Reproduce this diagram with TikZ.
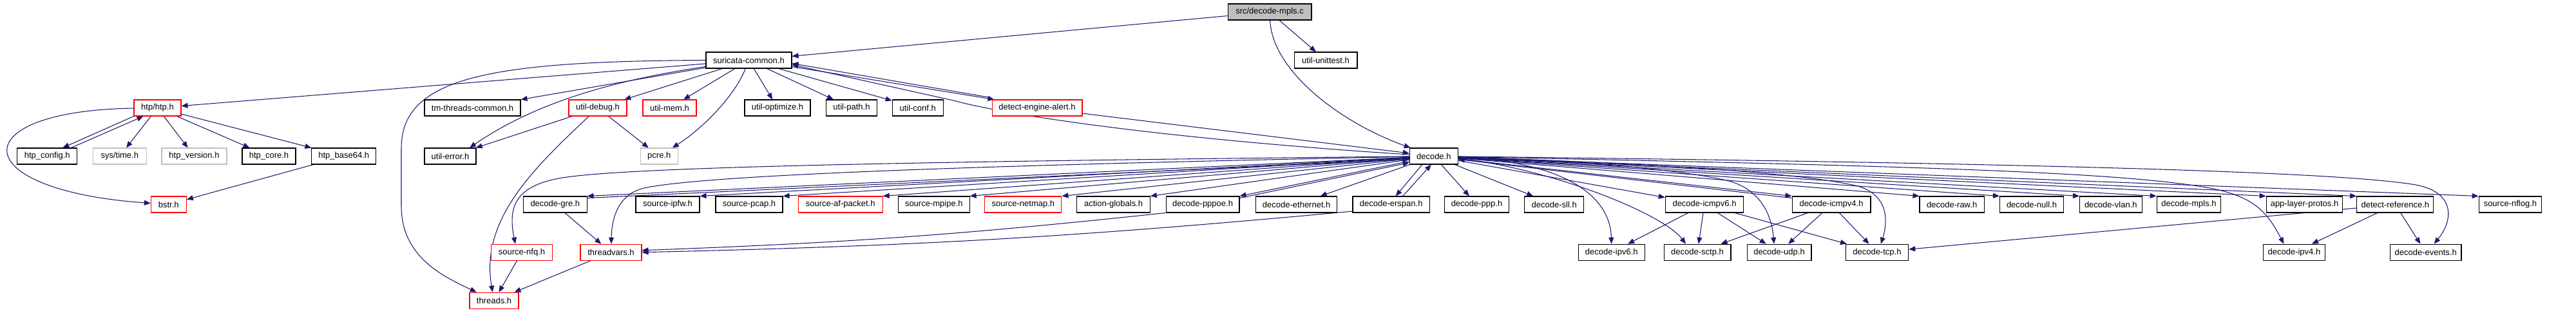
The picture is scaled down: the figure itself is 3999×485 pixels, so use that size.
\documentclass[tikz,border=0pt]{standalone}
\usepackage{fontspec}
\setmainfont{Liberation Sans}
\usetikzlibrary{arrows.meta,backgrounds}
\definecolor{edgeblue}{HTML}{191970}
\definecolor{truncred}{HTML}{FF0000}
\definecolor{sysgray}{HTML}{BFBFBF}
\tikzset{
  hfile/.style={rectangle,draw=black,fill=white,line width=0.6pt,
    minimum width=#1,minimum height=0.5cm,inner sep=0pt,
    font=\fontsize{7.4}{9}\selectfont},
  hfile/.default={2cm},
  htrunc/.style={hfile=#1,draw=truncred},
  hsys/.style={hfile=#1,draw=sysgray},
  hroot/.style={hfile=#1,fill=sysgray},
  incarrow/.style={-{Triangle[length=0.2cm,width=0.16cm]},draw=edgeblue,line width=0.6pt},
}

\begin{document}
\begin{tikzpicture}[x=0.02cm,y=-0.02cm]
  \useasboundingbox (0,0) rectangle (3999,485);
  % rows of the include graph
  \node[hroot=2.6cm] (root) at (1971,18.5) {src/decode-mpls.c};
  \node[hfile=2.66cm] (sc) at (1162.5,93.5) {suricata-common.h};
  \node[hfile=1.96cm] (unittest) at (2058,93.5) {util-unittest.h};

  \node[htrunc=1.46cm] (htp) at (244.5,167.5) {htp/htp.h};
  \node[hfile=2.98cm] (tmthreads) at (733.5,167.5) {tm-threads-common.h};
  \node[htrunc=1.8cm] (udebug) at (928,167.5) {util-debug.h};
  \node[htrunc=1.66cm] (umem) at (1039.5,167.5) {util-mem.h};
  \node[hfile=2.04cm] (uopt) at (1207,167.5) {util-optimize.h};
  \node[hfile=1.58cm] (upath) at (1322,167.5) {util-path.h};
  \node[hfile=1.58cm] (uconf) at (1424.7,167.5) {util-conf.h};
  \node[htrunc=2.8cm] (dea) at (1610,167.5) {detect-engine-alert.h};

  \node[hfile=1.86cm] (htpconfig) at (73.3,242.5) {htp\_config.h};
  \node[hsys=1.66cm] (systime) at (185.8,242.5) {sys/time.h};
  \node[hsys=2.02cm] (htpversion) at (301.5,242.5) {htp\_version.h};
  \node[hfile=1.66cm] (htpcore) at (417.5,242.5) {htp\_core.h};
  \node[hfile=2.01cm] (htpbase64) at (533.7,242.5) {htp\_base64.h};
  \node[hfile=1.6cm] (uerror) at (699,242.5) {util-error.h};
  \node[hsys=1.16cm] (pcre) at (1023.3,242.5) {pcre.h};
  \node[hfile=1.5cm] (decode) at (2225.8,242.5) {decode.h};

  \node[htrunc=1.1cm] (bstr) at (261.8,317.5) {bstr.h};
  \node[hfile=1.97cm] (gre) at (861.8,317.5) {decode-gre.h};
  \node[hfile=1.98cm] (ipfw) at (1036.5,317.5) {source-ipfw.h};
  \node[hfile=2.08cm] (pcap) at (1163,317.5) {source-pcap.h};
  \node[htrunc=2.62cm] (afpacket) at (1304.7,317.5) {source-af-packet.h};
  \node[hfile=2.21cm] (mpipe) at (1449.8,317.5) {source-mpipe.h};
  \node[htrunc=2.38cm] (netmap) at (1588.4,317.5) {source-netmap.h};
  \node[hfile=2.27cm] (actglob) at (1728.6,317.5) {action-globals.h};
  \node[hfile=2.28cm] (pppoe) at (1867,317.5) {decode-pppoe.h};
  \node[hfile=2.53cm] (ethernet) at (2012.7,317.5) {decode-ethernet.h};
  \node[hfile=2.39cm] (erspan) at (2159.7,317.5) {decode-erspan.h};
  \node[hfile=2.01cm] (ppp) at (2292.5,317.5) {decode-ppp.h};
  \node[hfile=1.84cm] (sll) at (2412.7,317.5) {decode-sll.h};
  \node[hfile=2.43cm] (icmpv6) at (2646,317.5) {decode-icmpv6.h};
  \node[hfile=2.44cm] (icmpv4) at (2843,317.5) {decode-icmpv4.h};
  \node[hfile=2.01cm] (raw) at (3030.2,317.5) {decode-raw.h};
  \node[hfile=1.98cm] (null) at (3154,317.5) {decode-null.h};
  \node[hfile=1.93cm] (vlan) at (3276.8,317.5) {decode-vlan.h};
  \node[hfile=1.99cm] (mplsh) at (3398,317.5) {decode-mpls.h};
  \node[hfile=2.37cm] (alproto) at (3577.5,317.5) {app-layer-protos.h};
  \node[hfile=2.38cm] (detref) at (3718.3,317.5) {detect-reference.h};
  \node[hfile=1.95cm] (nflog) at (3896.9,317.5) {source-nflog.h};

  \node[htrunc=1.9cm] (nfq) at (810,391.7) {source-nfq.h};
  \node[htrunc=1.9cm] (threadvars) at (948.5,391.7) {threadvars.h};
  \node[hfile=2.05cm] (ipv6) at (2501.8,391.7) {decode-ipv6.h};
  \node[hfile=2.08cm] (sctp) at (2635,391.7) {decode-sctp.h};
  \node[hfile=2cm] (udp) at (2762,391.7) {decode-udp.h};
  \node[hfile=1.95cm] (tcp) at (2913.9,391.7) {decode-tcp.h};
  \node[hfile=1.92cm] (ipv4) at (3561.4,391.7) {decode-ipv4.h};
  \node[hfile=2.21cm] (events) at (3765.7,391.7) {decode-events.h};

  \node[htrunc=1.52cm] (threads) at (767,466.7) {threads.h};

  \begin{scope}[on background layer]
  % includes of the source file
  \draw[incarrow] (root) -- (sc);
  \draw[incarrow] (root) -- (unittest);
  \draw[incarrow] (root) .. controls (1975,110) and (2080,190) .. (decode);

  % suricata-common.h
  \draw[incarrow] (sc) -- (htp);
  \draw[incarrow] (sc) -- (tmthreads);
  \draw[incarrow] (sc) -- (udebug);
  \draw[incarrow] (sc) -- (umem);
  \draw[incarrow] (sc) -- (uopt);
  \draw[incarrow] (sc) -- (upath);
  \draw[incarrow] (sc) -- (uconf);
  \draw[incarrow] ([yshift=-0.2cm]sc.east) -- ([xshift=0.08cm]dea.north west);
  \draw[incarrow] ([xshift=-0.04cm,yshift=0.06cm]dea.north west) -- ([yshift=-0.1cm]sc.east);
  \draw[incarrow] (sc) .. controls (1140,150) and (1090,200) .. (pcre);
  \draw[incarrow] (sc) .. controls (950,125) and (830,160) .. ([xshift=0.6cm]uerror.north);
  \draw[incarrow] (sc.west) .. controls (760,95) and (623,120) .. (623,230)
    -- (623,320) .. controls (623,400) and (690,430) .. (threads);
  \draw[incarrow] (dea) -- (decode);
  \draw[incarrow] (decode) .. controls (1800,215) and (1560,178) .. (1480,156)
    -- ([yshift=-0.14cm]sc.east);

  % htp
  \draw[incarrow] (htp.south west) -- ([xshift=0.48cm]htpconfig.north);
  \draw[incarrow] ([xshift=-0.2cm]htpconfig.north east) -- ([xshift=0.3cm]htp.south west);
  \draw[incarrow] (htp) -- (systime);
  \draw[incarrow] (htp) -- (htpversion);
  \draw[incarrow] (htp) -- (htpcore);
  \draw[incarrow] (htp) -- (htpbase64);
  \draw[incarrow] (htp) .. controls (-60,172) and (-55,295) .. (bstr);
  \draw[incarrow] (htpbase64) -- (bstr);

  % util-debug.h
  \draw[incarrow] (udebug) -- (uerror);
  \draw[incarrow] (udebug) -- (pcre);
  \draw[incarrow] (udebug) .. controls (830,260) and (745,340) .. (threads);

  % decode.h, left side
  \draw[incarrow] (decode) -- (gre.north east);
  \draw[incarrow] ([yshift=-0.06cm]gre.north east) -- ([yshift=-0.1cm]decode.west);
  \draw[incarrow] (decode) -- (ipfw.north east);
  \draw[incarrow] (decode) -- (pcap.north east);
  \draw[incarrow] (decode) -- (afpacket.north east);
  \draw[incarrow] (decode) -- (mpipe.north east);
  \draw[incarrow] (decode) -- (netmap.north east);
  \draw[incarrow] (decode) -- (actglob.north east);
  \draw[incarrow] (decode) -- (pppoe.north east);
  \draw[incarrow] ([yshift=-0.06cm]pppoe.north east) -- ([yshift=-0.2cm]decode.west);
  \draw[incarrow] (decode) -- (ethernet);
  \draw[incarrow] ([xshift=-0.36cm]decode.south) -- ([xshift=0.14cm]erspan.north);
  \draw[incarrow] ([xshift=0.36cm]erspan.north) -- ([xshift=-0.08cm]decode.south);
  \draw[incarrow] (decode) .. controls (1500,250) and (1000,258) .. (880,275)
    .. controls (800,286) and (788,320) .. ([xshift=-0.2cm]nfq.north);
  \draw[incarrow] (decode) .. controls (1600,255) and (1100,270) .. (1000,292)
    .. controls (965,300) and (950,330) .. (threadvars);

  % decode.h, right side
  \draw[incarrow] (decode) -- (ppp);
  \draw[incarrow] (decode) -- (sll);
  \draw[incarrow] (decode) -- (icmpv6);
  \draw[incarrow] (decode) -- (icmpv4.north west);
  \draw[incarrow] ([yshift=-0.06cm]icmpv4.north west) -- ([yshift=-0.1cm]decode.east);
  \draw[incarrow] (decode) -- (raw.north west);
  \draw[incarrow] (decode) -- (null.north west);
  \draw[incarrow] (decode) -- (vlan.north west);
  \draw[incarrow] (decode) -- (mplsh.north west);
  \draw[incarrow] (decode) -- (alproto.north west);
  \draw[incarrow] (decode) -- (detref.north west);
  \draw[incarrow] (decode) -- (nflog.north west);
  \draw[incarrow] (decode) .. controls (2420,250) and (2500,300) .. (ipv6);
  \draw[incarrow] (decode) .. controls (2400,260) and (2580,330) .. ([xshift=-0.36cm]sctp.north);
  \draw[incarrow] (decode) .. controls (2450,250) and (2600,262) .. (2680,280)
    .. controls (2730,292) and (2750,330) .. ([xshift=-0.16cm]udp.north);
  \draw[incarrow] (decode) .. controls (2600,255) and (2800,270) .. (2880,288)
    .. controls (2930,300) and (2932,340) .. ([xshift=0.12cm]tcp.north);
  \draw[incarrow] (decode) .. controls (3000,258) and (3300,268) .. (3430,292)
    .. controls (3500,305) and (3520,330) .. ([xshift=-0.32cm]ipv4.north);
  \draw[incarrow] (decode) .. controls (3300,255) and (3650,270) .. (3750,287)
    .. controls (3810,298) and (3810,340) .. ([xshift=0.26cm]events.north);

  % lower levels
  \draw[incarrow] (gre) -- (threadvars);
  \draw[incarrow] (pppoe.south west) to[bend left=2] ([yshift=0.06cm]threadvars.east);
  \draw[incarrow] ([yshift=0.05cm]erspan.south west) to[bend left=2] (threadvars.east);
  \draw[incarrow] (nfq) -- (threads);
  \draw[incarrow] (threadvars) -- (threads);
  \draw[incarrow] (icmpv6) -- (ipv6);
  \draw[incarrow] (icmpv6) -- (sctp);
  \draw[incarrow] (icmpv6) -- (udp);
  \draw[incarrow] (icmpv6) -- (tcp);
  \draw[incarrow] (icmpv4) -- (sctp);
  \draw[incarrow] (icmpv4) -- (udp);
  \draw[incarrow] (icmpv4) -- (tcp);
  \draw[incarrow] (detref) -- (tcp);
  \draw[incarrow] (detref) -- (ipv4);
  \draw[incarrow] (detref) -- (events);
  \end{scope}
\end{tikzpicture}
\end{document}
